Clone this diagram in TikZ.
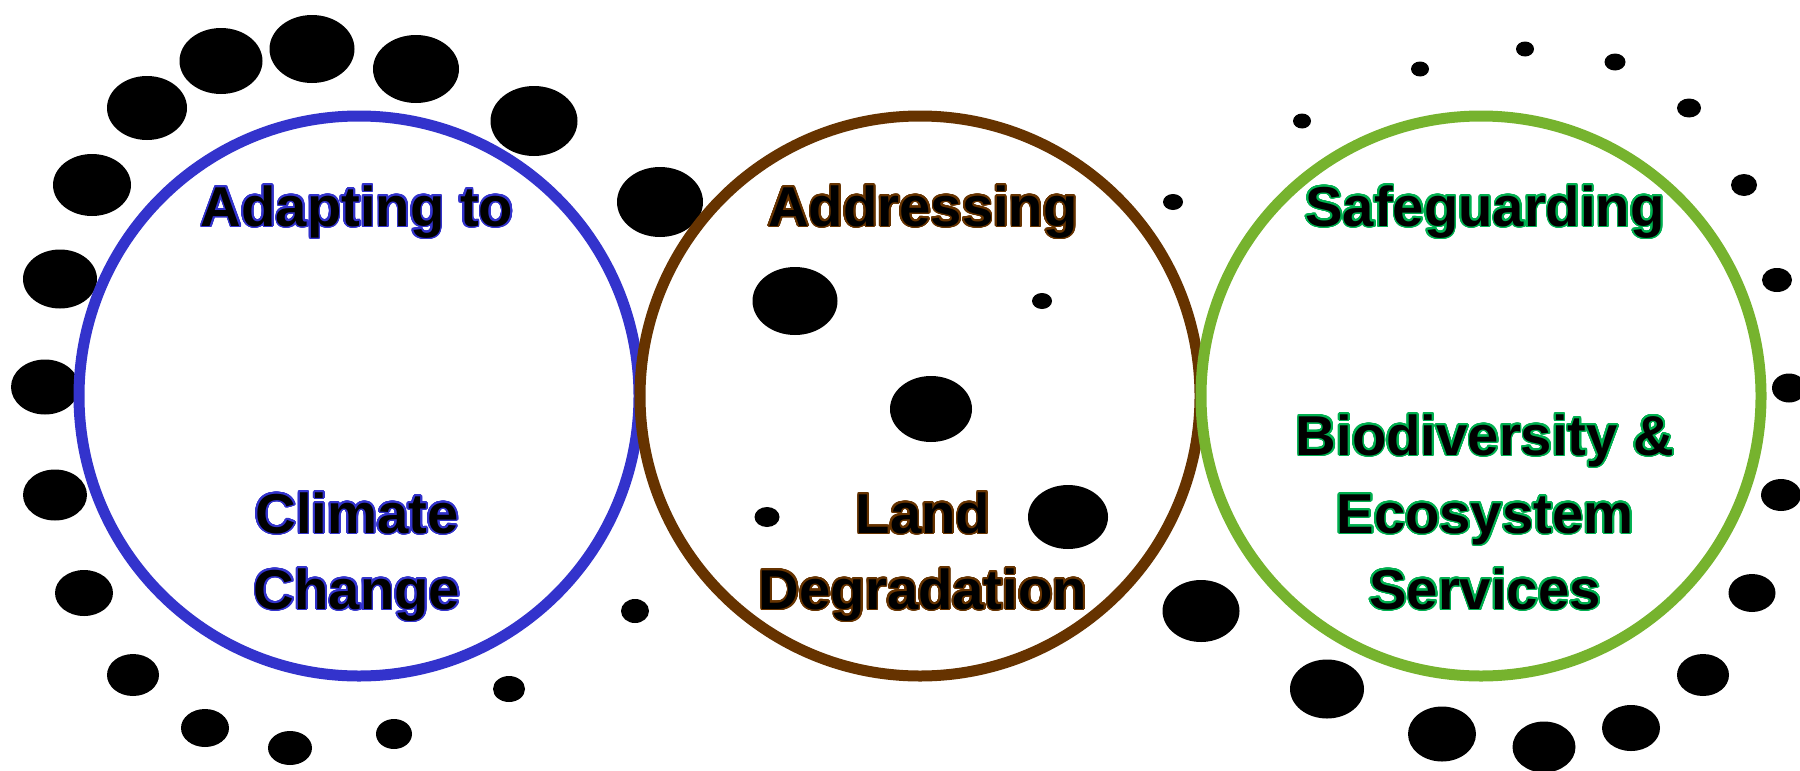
\documentclass[tikz,border=0pt]{standalone}
\usepackage{fontspec}
\setmainfont{Liberation Sans}
\usepackage{tikz}
\usepackage{contour}
\contourlength{0.5pt}
\contournumber{32}

\definecolor{climate}{HTML}{3333CC}
\definecolor{land}{HTML}{663300}
\definecolor{nature}{HTML}{76B32E}
\definecolor{natureline}{HTML}{00B050}

\tikzset{
	ring/.style={line width=1.1mm},
	ringtext/.style={anchor=base, inner sep=0pt, font=\fontsize{16}{20}\selectfont\bfseries},
}

\begin{document}
\begin{tikzpicture}[x=0.1mm, y=-0.1mm]
				\useasboundingbox (0,0) rectangle (1800,770);
				\foreach \x/\y/\rx/\ry in {147/108/40/32, 221/61/41.5/33, 312/49/42.5/34, 416/69/43/34,
					534/121/43.5/35, 660/202/43/35, 795/301/42.5/34, 931/409/41/33, 1068/517/40/32,
					1201/611/38.5/31, 1327/689/37/29.5, 1442/734/34/27.5, 1544/747/31.5/25.5,
					1631/728/29/23, 1703/675/26/21, 1752/593/23.5/19, 1781/495/20/16, 1789/388/17/14.5,
					1777/280/15/12, 1744/185/13/11, 1689/108/12/9.5, 1615/62/10.5/8.5, 1525/49/9/7.5,
					1420/69/9/7.5, 1302/121/9/7.5, 1173/202/10/8, 1042/301/10/8} {
					\fill (\x,\y) ellipse [x radius=\rx, y radius=\ry];
				}
				\foreach \x/\y/\rx/\ry in {92/185/39/31, 60/279/37/29.5, 45/387/34/27.5, 55/495/32/25.5,
					84/593/29/23, 133/675/26/21, 205/728/24/19, 290/748/22/17, 394/734/18/15,
					509/689/16/13, 635/611/14/12, 767/517/12.5/10} {
					\fill (\x,\y) ellipse [x radius=\rx, y radius=\ry];
				}
				\draw[ring, climate] (359,396) circle [radius=280];
				\draw[ring, land] (920,396) circle [radius=280];
				\draw[ring, nature] (1481,396) circle [radius=280];
				\node[ringtext] (adapt) at (357,226) {\contour{climate}{Adapting to}};
				\node[ringtext] (climate) at (357,533) {\contour{climate}{Climate}};
				\node[ringtext] (change) at (357,609) {\contour{climate}{Change}};
				\node[ringtext] (address) at (923,226) {\contour{land}{Addressing}};
				\node[ringtext] (landword) at (923,533) {\contour{land}{Land}};
				\node[ringtext] (degrad) at (923,609) {\contour{land}{Degradation}};
				\node[ringtext] (safe) at (1485,226) {\contour{natureline}{Safeguarding}};
				\node[ringtext] (biodiv) at (1485,455) {\contour{natureline}{Biodiversity \&}};
				\node[ringtext] (eco) at (1485,533) {\contour{natureline}{Ecosystem}};
				\node[ringtext] (services) at (1485,609) {\contour{natureline}{Services}};
			\end{tikzpicture}
\end{document}
